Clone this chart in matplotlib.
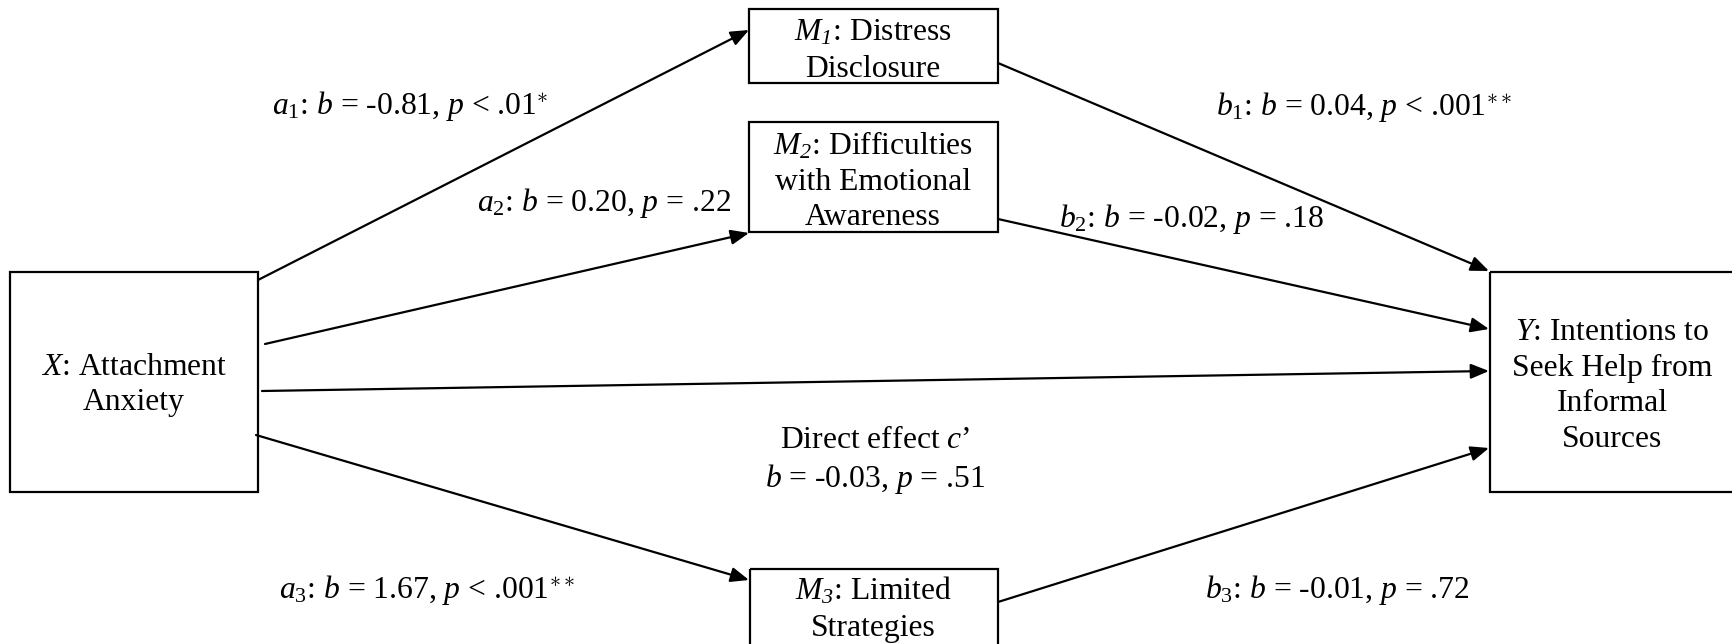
import matplotlib
matplotlib.use("Agg")
import matplotlib.pyplot as plt
from matplotlib.patches import Rectangle, FancyArrowPatch

plt.rcParams["font.family"] = ["Liberation Serif", "DejaVu Serif"]
plt.rcParams["mathtext.fontset"] = "custom"
plt.rcParams["mathtext.rm"] = "Liberation Serif"
plt.rcParams["mathtext.it"] = "Liberation Serif:italic"
plt.rcParams["mathtext.bf"] = "Liberation Serif:bold"
plt.rcParams["mathtext.sf"] = "Liberation Serif:italic"  # used for italic digits

# path coefficients
paths = ["a1", "a2", "a3", "b1", "b2", "b3", "c"]
coef_b = ["-0.81", "0.20", "1.67", "0.04", "-0.02", "-0.01", "-0.03"]
p_text = ["< .01", "= .22", "< .001", "< .001", "= .18", "= .72", "= .51"]
stars = ["*", "", "**", "**", "", "", ""]

# node labels
node_text = {
    "X": "$X$: Attachment\nAnxiety",
    "M1": "$M_\\mathsf{1}$: Distress\nDisclosure",
    "M2": "$M_\\mathsf{2}$: Difficulties\nwith Emotional\nAwareness",
    "M3": "$M_\\mathsf{3}$: Limited\nStrategies",
    "Y": "$Y$: Intentions to\nSeek Help from\nInformal\nSources",
}

# layout (pixels, y down)
W, H = 1733, 644
boxes = {
    "X": (10, 272, 248, 220, 134, 385),
    "M1": (749, 9, 249, 74, 873, 51),
    "M2": (749, 122, 249, 110, 873, 181),
    "M3": (750, 569, 248, 95, 873, 609),
    "Y": (1490, 272, 260, 220, 1612, 386),
}
arrows = {
    "a1": ((258, 280), (749, 30)),
    "a2": ((265, 344), (749, 233)),
    "a3": ((256, 435), (749, 580)),
    "b1": ((998, 63), (1489, 271)),
    "b2": ((998, 219), (1489, 329)),
    "b3": ((998, 602), (1489, 448)),
    "c": ((262, 391), (1489, 371)),
}
label_pos = {
    "a1": (272, 106),
    "a2": (477, 203),
    "a3": (279, 590),
    "b1": (1216, 107),
    "b2": (1059, 219),
    "b3": (1205, 590),
}

fig = plt.figure(figsize=(W / 100, H / 100), dpi=100)
ax = fig.add_axes([0, 0, 1, 1])
ax.set_xlim(0, W)
ax.set_ylim(H, 0)
ax.axis("off")

fs = 22.8
ls = 1.3

for key, (x, y, w, h, tx, ty) in boxes.items():
    ax.add_patch(Rectangle((x, y), w, h, fill=False, lw=1.6, ec="black"))
    ax.text(tx, ty, node_text[key], ha="center", va="center", fontsize=fs,
            linespacing=ls)

for name, (start, end) in arrows.items():
    ax.add_patch(FancyArrowPatch(start, end, arrowstyle="-|>,head_length=1.1,head_width=0.45",
                                 mutation_scale=10, lw=1.6, color="black",
                                 shrinkA=0, shrinkB=0))

for i, name in enumerate(paths):
    star = "$^{%s}$" % stars[i].replace("*", "\\ast") if stars[i] else ""
    if name == "c":
        txt = "Direct effect $c$\u2019\n$b$ = %s, $p$ %s" % (coef_b[i], p_text[i])
        ax.text(875, 461, txt, ha="center", va="center", fontsize=fs, linespacing=ls)
        continue
    sym = "$%s_%s$" % (name[0], name[1])
    txt = "%s: $b$ = %s, $p$ %s%s" % (sym, coef_b[i], p_text[i], star)
    x, y = label_pos[name]
    ax.text(x, y, txt, ha="left", va="center", fontsize=fs)

fig.savefig("out.png", dpi=100)
